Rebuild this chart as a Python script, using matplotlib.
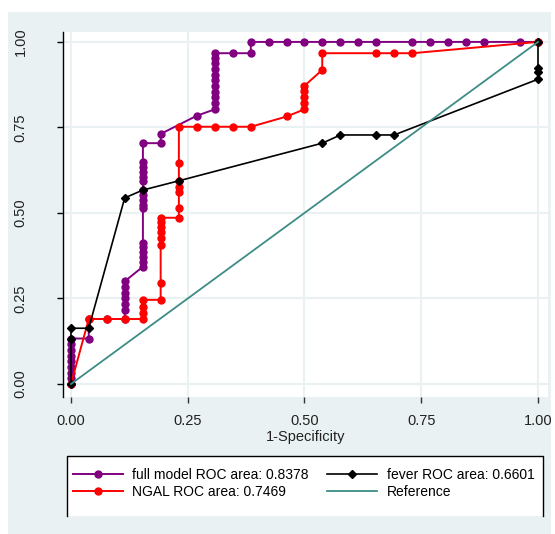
import matplotlib
matplotlib.use("Agg")
import matplotlib.pyplot as plt
from matplotlib.patches import Rectangle
from matplotlib.lines import Line2D

plt.rcParams["font.family"] = ["Liberation Sans", "DejaVu Sans"]

# ROC points (1-specificity, sensitivity)
full_fpr = [0, 0, 0, 0, 0, 0, 0, 0, 0,
            0.038, 0.038, 0.077, 0.115,
            0.115, 0.115, 0.115, 0.115, 0.115, 0.115,
            0.154, 0.154, 0.154, 0.154, 0.154, 0.154,
            0.154, 0.154, 0.154, 0.154, 0.154, 0.154, 0.154, 0.154, 0.154, 0.154,
            0.154, 0.192, 0.192, 0.269,
            0.308, 0.308, 0.308, 0.308, 0.308, 0.308, 0.308, 0.308, 0.308, 0.308, 0.308,
            0.346, 0.385, 0.385, 0.423, 0.462, 0.500, 0.538, 0.577, 0.615, 0.654,
            0.731, 0.769, 0.808, 0.846, 0.885, 0.962, 1.0]
full_tpr = [0, 0.017, 0.033, 0.05, 0.067, 0.083, 0.10, 0.117, 0.133,
            0.133, 0.19, 0.19, 0.19,
            0.216, 0.233, 0.25, 0.267, 0.283, 0.30,
            0.343, 0.358, 0.372, 0.387, 0.40, 0.411,
            0.514, 0.523, 0.538, 0.553, 0.567, 0.592, 0.606, 0.621, 0.635, 0.650,
            0.704, 0.704, 0.731, 0.784,
            0.803, 0.822, 0.840, 0.855, 0.871, 0.889, 0.903, 0.920, 0.937, 0.952, 0.967,
            0.967, 0.967, 1.0, 1.0, 1.0, 1.0, 1.0, 1.0, 1.0, 1.0,
            1.0, 1.0, 1.0, 1.0, 1.0, 1.0, 1.0]

ngal_fpr = [0, 0.038, 0.077, 0.115, 0.154, 0.154, 0.154, 0.154,
            0.192, 0.192, 0.192, 0.192, 0.192, 0.192, 0.192, 0.192,
            0.231, 0.231, 0.231, 0.231, 0.231, 0.231, 0.231,
            0.269, 0.308, 0.346, 0.385, 0.462,
            0.5, 0.5, 0.5, 0.5, 0.5, 0.538, 0.538, 0.654, 0.692, 0.731, 1.0]
ngal_tpr = [0, 0.19, 0.19, 0.19, 0.19, 0.207, 0.226, 0.246,
            0.246, 0.294, 0.406, 0.426, 0.445, 0.46, 0.475, 0.486,
            0.486, 0.514, 0.562, 0.577, 0.594, 0.645, 0.752,
            0.752, 0.752, 0.752, 0.752, 0.782,
            0.803, 0.822, 0.84, 0.857, 0.872, 0.918, 0.967, 0.967, 0.967, 0.967, 1.0]

fever_fpr = [0, 0, 0, 0.038, 0.115, 0.154, 0.231, 0.538, 0.577, 0.654, 0.692,
             1.0, 1.0, 1.0, 1.0]
fever_tpr = [0, 0.131, 0.163, 0.163, 0.544, 0.567, 0.594, 0.704, 0.728, 0.728, 0.728,
             0.891, 0.913, 0.923, 1.0]

ref_x = [0, 1]
ref_y = [0, 1]

labels = ["full model ROC area: 0.8378", "NGAL ROC area: 0.7469",
          "fever ROC area: 0.6601", "Reference"]
ticks = [0, 0.25, 0.5, 0.75, 1.0]
tick_labels = ["0.00", "0.25", "0.50", "0.75", "1.00"]

W, H = 555, 534
bg = "#e9f1f2"
fig = plt.figure(figsize=(W / 100, H / 100), dpi=100)
fig.patch.set_facecolor("white")
fig.patches.append(Rectangle((8 / W, 0), (551 - 8) / W, (534 - 12) / H,
                             transform=fig.transFigure, facecolor=bg,
                             edgecolor="none", zorder=-10))

ax = fig.add_axes([63 / W, 1 - 397 / H, (548 - 63) / W, (397 - 32) / H])
ax.set_facecolor("white")

h1, = ax.plot(full_fpr, full_tpr, color="#800080", lw=1.4, marker="o", ms=5, zorder=3)
h2, = ax.plot(ngal_fpr, ngal_tpr, color="#ff0000", lw=1.4, marker="o", ms=5, zorder=4)
h3, = ax.plot(fever_fpr, fever_tpr, color="black", lw=1.2, marker="D", ms=4, zorder=5)
h4, = ax.plot(ref_x, ref_y, color="#3d8c86", lw=1.3, zorder=6)

ax.set_xlim(-0.0171, 1.0214)
ax.set_ylim(-0.038, 1.029)
ax.set_xticks(ticks)
ax.set_xticklabels(tick_labels)
ax.set_yticks(ticks)
ax.set_yticklabels(tick_labels)
ax.grid(True, color=bg, lw=1.5, zorder=1)
ax.set_axisbelow(True)

for s in ["top", "right", "bottom"]:
    ax.spines[s].set_visible(False)
ax.spines["left"].set_color("black")
ax.spines["left"].set_linewidth(1.0)

ax.tick_params(axis="x", length=4.5, width=1, color="#333333", pad=7.5,
               labelsize=10.5, labelcolor="#222222")
ax.tick_params(axis="y", length=4.5, width=1, color="black", pad=21,
               labelsize=10.5, labelcolor="#222222")
for t in ax.get_yticklabels():
    t.set_rotation(90)
    t.set_va("center")

ax.set_xlabel("1-Specificity", fontsize=10.5, color="#222222", labelpad=1.5)

# legend box: white, framed on top and sides
L, R, T, B = 66.7, 543, 456, 516
fig.patches.append(Rectangle((L / W, 1 - B / H), (R - L) / W, (B - T) / H,
                             transform=fig.transFigure, facecolor="white",
                             edgecolor="none", zorder=-5))
fig.lines.append(Line2D([L / W, L / W, R / W, R / W],
                        [1 - B / H, 1 - T / H, 1 - T / H, 1 - B / H],
                        transform=fig.transFigure, color="black", lw=1.0))

leg = fig.legend([h1, h2, h3, h4], labels, ncol=2, loc="center left",
                 bbox_to_anchor=(72.7 / W, 1 - 483.4 / H),
                 fontsize=10, frameon=False,
                 handlelength=3.6, handletextpad=0.7, columnspacing=1.3,
                 borderpad=0, labelspacing=0.2, borderaxespad=0)

fig.savefig("out.png", dpi=100, facecolor="white")
